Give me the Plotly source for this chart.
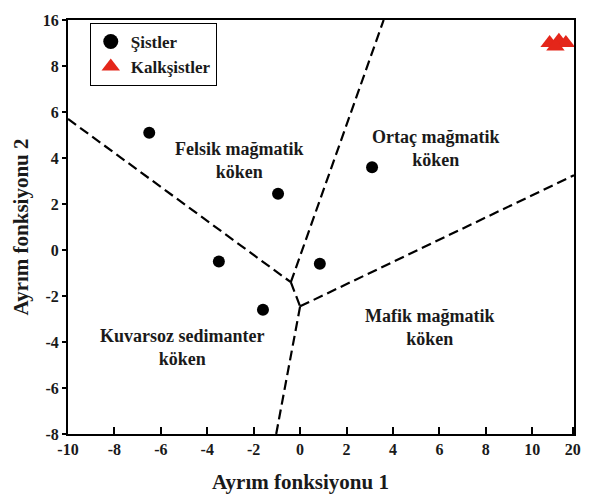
import plotly.graph_objects as go

# Data (plotted in broken-axis units: x tick "20" sits at 11.75, y tick "16" at 10)
sist_x = [-6.5, -0.95, 3.1, -3.5, 0.85, -1.6]
sist_y = [5.1, 2.45, 3.6, -0.5, -0.6, -2.6]
kalk_x = [10.75, 11.15, 11.45, 11.0]
kalk_y = [9.0, 9.1, 9.0, 8.85]

# Boundary lines (segments separated by None)
bound_x = [-10, -0.4, None, -0.4, 3.6, None, -0.4, 0.0, None, 0.0, -1.03, None, 0.0, 11.8]
bound_y = [5.7, -1.4, None, -1.4, 10, None, -1.4, -2.45, None, -2.45, -8, None, -2.45, 3.25]

x_tickvals = [-10, -8, -6, -4, -2, 0, 2, 4, 6, 8, 10, 11.75]
x_ticktext = ["-10", "-8", "-6", "-4", "-2", "0", "2", "4", "6", "8", "10", "20"]
y_tickvals = [-8, -6, -4, -2, 0, 2, 4, 6, 8, 10]
y_ticktext = ["-8", "-6", "-4", "-2", "0", "2", "4", "6", "8", "16"]

region_labels = ["Felsik mağmatik<br>köken", "Ortaç mağmatik<br>köken",
                 "Mafik mağmatik<br>köken", "Kuvarsoz sedimanter<br>köken"]
region_x = [-2.6, 5.85, 5.6, -5.1]
region_y = [3.9, 4.4, -3.35, -4.25]

FONT = "Liberation Serif"
TXT = "#1a1a1a"
RED = "#e4261a"

fig = go.Figure()
fig.add_trace(go.Scatter(x=bound_x, y=bound_y, mode="lines", showlegend=False,
                         line=dict(color="black", width=2.2, dash="10px,5px"),
                         hoverinfo="skip"))
fig.add_trace(go.Scatter(x=sist_x, y=sist_y, mode="markers", name="Şistler",
                         legendgroup="s", showlegend=False,
                         marker=dict(symbol="circle", size=12, color="black")))
fig.add_trace(go.Scatter(x=kalk_x, y=kalk_y, mode="markers", name="Kalkşistler",
                         legendgroup="k", showlegend=False,
                         marker=dict(symbol="triangle-up", size=16, color=RED)))
# legend entries with larger symbols
fig.add_trace(go.Scatter(x=[None], y=[None], mode="markers", name="<b>Şistler</b>",
                         legendgroup="s",
                         marker=dict(symbol="circle", size=15, color="black")))
fig.add_trace(go.Scatter(x=[None], y=[None], mode="markers", name="<b>Kalkşistler</b>",
                         legendgroup="k",
                         marker=dict(symbol="triangle-up", size=18, color=RED)))

for t, x, y in zip(region_labels, region_x, region_y):
    fig.add_annotation(x=x, y=y, text="<b>" + t + "</b>", showarrow=False,
                       font=dict(family=FONT, size=18, color=TXT), align="center")

# x-axis title as annotation (centred under x = 0 as in the original)
fig.add_annotation(xref="paper", yref="paper", x=0.459, y=-0.117,
                   xanchor="center", yanchor="middle", showarrow=False,
                   text="<b>Ayrım fonksiyonu 1</b>",
                   font=dict(family=FONT, size=21, color=TXT))

fig.update_layout(
    width=593, height=495,
    margin=dict(l=68, r=17, t=14, b=61),
    paper_bgcolor="white", plot_bgcolor="white",
    font=dict(family=FONT, color=TXT),
    legend=dict(x=0.043, y=0.993, xanchor="left", yanchor="top",
                bordercolor="black", borderwidth=1, bgcolor="white",
                font=dict(family=FONT, size=17, color=TXT),
                tracegroupgap=0, itemwidth=30),
    xaxis=dict(range=[-10, 11.8], tickvals=x_tickvals, ticktext=x_ticktext,
               ticks="inside", ticklen=7, tickwidth=2, tickcolor="black",
               showgrid=False, zeroline=False, showline=True, linecolor="black",
               linewidth=2, mirror=True,
               tickfont=dict(family=FONT, size=16, color=TXT, weight="bold")),
    yaxis=dict(range=[-8, 10], tickvals=y_tickvals, ticktext=y_ticktext,
               ticks="outside", ticklen=4, tickwidth=2, tickcolor="black",
               showgrid=False, zeroline=False, showline=True, linecolor="black",
               linewidth=2, mirror=True,
               tickfont=dict(family=FONT, size=16, color=TXT, weight="bold"),
               title=dict(text="<b>Ayrım fonksiyonu 2</b>", standoff=8,
                          font=dict(family=FONT, size=21, color=TXT))),
)

fig.write_html("out.html")
